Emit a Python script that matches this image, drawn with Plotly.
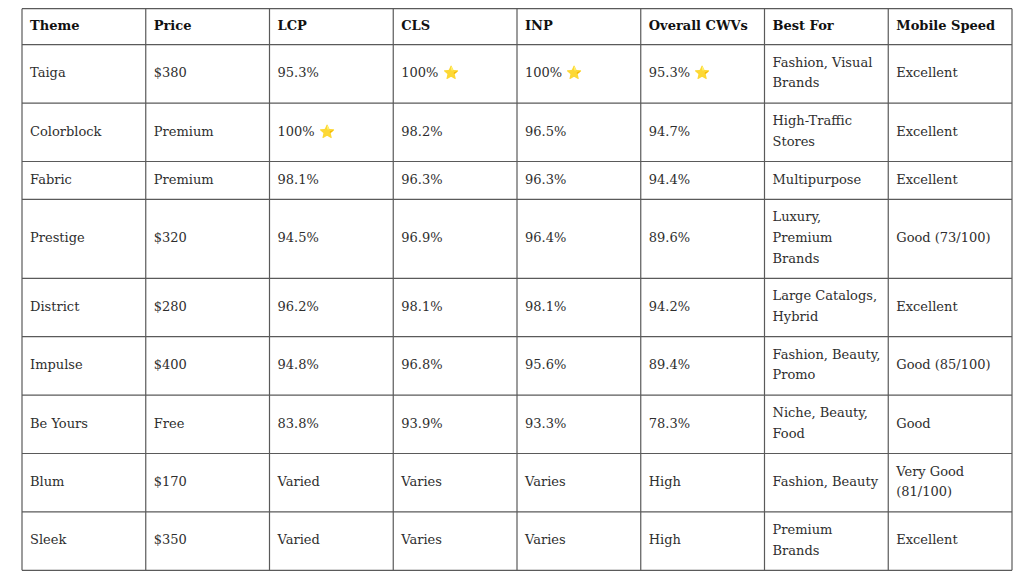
import plotly.graph_objects as go

# table contents -------------------------------------------------------------
headers = ['Theme', 'Price', 'LCP', 'CLS', 'INP', 'Overall CWVs', 'Best For', 'Mobile Speed']

themes = ['Taiga', 'Colorblock', 'Fabric', 'Prestige', 'District', 'Impulse', 'Be Yours', 'Blum', 'Sleek']
prices = ['$380', 'Premium', 'Premium', '$320', '$280', '$400', 'Free', '$170', '$350']
lcp = ['95.3%', '100% ⭐', '98.1%', '94.5%', '96.2%', '94.8%', '83.8%', 'Varied', 'Varied']
cls = ['100% ⭐', '98.2%', '96.3%', '96.9%', '98.1%', '96.8%', '93.9%', 'Varies', 'Varies']
inp = ['100% ⭐', '96.5%', '96.3%', '96.4%', '98.1%', '95.6%', '93.3%', 'Varies', 'Varies']
overall = ['95.3% ⭐', '94.7%', '94.4%', '89.6%', '94.2%', '89.4%', '78.3%', 'High', 'High']
best_for = ['Fashion, Visual<br>Brands', 'High-Traffic<br>Stores', 'Multipurpose',
            'Luxury,<br>Premium<br>Brands', 'Large Catalogs,<br>Hybrid', 'Fashion, Beauty,<br>Promo',
            'Niche, Beauty,<br>Food', 'Fashion, Beauty', 'Premium<br>Brands']
mobile_speed = ['Excellent', 'Excellent', 'Excellent', 'Good (73/100)', 'Excellent',
                'Good (85/100)', 'Good', 'Very Good<br>(81/100)', 'Excellent']

columns = [themes, prices, lcp, cls, inp, overall, best_for, mobile_speed]

# page geometry (pixels, page coordinates) -----------------------------------
W, H = 1024, 579
offset = 8               # the figure sits 8px in from the page corner
left, right, top = 22, 1012, 8.7
pad = 8
line_gap = 20.6          # distance between two wrapped lines
header_h = 36
col_w = (right - left) / len(headers)

# rows: header + data rows, each row is a list of cell strings
rows = [['<b>' + h + '</b>' for h in headers]]
for i in range(len(themes)):
    rows.append([col[i] for col in columns])

# row height grows with the number of wrapped lines
heights = [header_h]
for r in rows[1:]:
    n = max(c.count('<br>') + 1 for c in r)
    heights.append(17.2 + line_gap * n)

bounds = [top]
for h in heights:
    bounds.append(bounds[-1] + h)

# text of every cell, one point per line, vertically centred in its row
xs, ys, texts, colors = [], [], [], []
for ri, r in enumerate(rows):
    yc = (bounds[ri] + bounds[ri + 1]) / 2
    for ci, cell in enumerate(r):
        parts = [cell] if ri == 0 else cell.split('<br>')
        n = len(parts)
        for k, p in enumerate(parts):
            xs.append(left + ci * col_w + pad)
            ys.append(yc + (k - (n - 1) / 2) * line_gap)
            texts.append(p)
            colors.append('#111' if ri == 0 else '#2e2e2e')

fig = go.Figure()

fig.add_trace(go.Scatter(
    x=xs,
    y=ys,
    text=texts,
    mode='text',
    textposition='middle right',
    textfont=dict(family='DejaVu Serif', size=13, color=colors),
    hoverinfo='skip',
    showlegend=False,
))

# grid lines
line_style = dict(color='#5a5a5a', width=1.2)
for b in bounds:
    fig.add_shape(type='line', xref='x', yref='y', x0=left, x1=right, y0=b, y1=b, line=line_style)
for ci in range(len(headers) + 1):
    x = left + ci * col_w
    fig.add_shape(type='line', xref='x', yref='y', x0=x, x1=x, y0=bounds[0], y1=bounds[-1], line=line_style)

fig.update_layout(
    width=W,
    height=H,
    margin=dict(l=0, r=0, t=0, b=0),
    paper_bgcolor='white',
    plot_bgcolor='white',
    xaxis=dict(range=[offset, offset + W], visible=False, fixedrange=True),
    yaxis=dict(range=[offset + H, offset], visible=False, fixedrange=True),
)

fig.write_html('out.html')
